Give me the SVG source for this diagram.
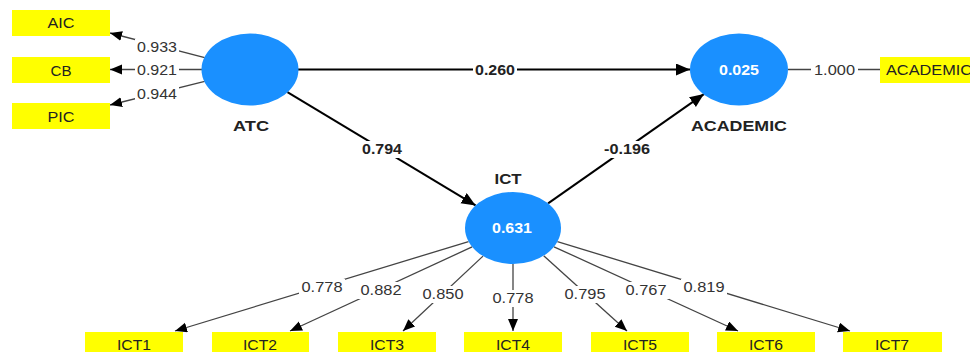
<svg xmlns="http://www.w3.org/2000/svg" width="970" height="352" viewBox="0 0 970 352">
<style>
.bg{fill:#ffffff}
.ind rect{fill:#ffff00}
.ind text{font-family:"Liberation Sans",Arial,sans-serif;font-size:14px;fill:#222;text-anchor:middle}
.lv ellipse{fill:#1a90ff}
.lv .val{font-family:"Liberation Sans",Arial,sans-serif;font-size:14px;font-weight:bold;fill:#ffffff;text-anchor:middle}
.lv .name{font-family:"Liberation Sans",Arial,sans-serif;font-size:14px;font-weight:bold;fill:#222;text-anchor:middle}
.ld{stroke:#444;stroke-width:1.3;fill:none}
.st{stroke:#000;stroke-width:2;fill:none}
.lbl{font-family:"Liberation Sans",Arial,sans-serif;font-size:14px;fill:#333;text-anchor:middle}
.blbl{font-family:"Liberation Sans",Arial,sans-serif;font-size:14px;font-weight:bold;fill:#222;text-anchor:middle}
.lb{fill:#ffffff}
</style>
<defs>
<marker id="ah" markerUnits="userSpaceOnUse" markerWidth="14" markerHeight="12" refX="12" refY="5" orient="auto">
<path d="M0,0 L12,5 L0,10 Z" fill="#000"/>
</marker>
<marker id="ahb" markerUnits="userSpaceOnUse" markerWidth="16" markerHeight="14" refX="14" refY="6" orient="auto">
<path d="M0,0 L14,6 L0,12 Z" fill="#000"/>
</marker>
</defs>
<rect class="bg" x="0" y="0" width="970" height="352"/>

<g id="connectors">
<!-- ATC outer loadings -->
<line class="ld" x1="204.7" y1="57.7" x2="110" y2="33" marker-end="url(#ah)"/>
<line class="ld" x1="202" y1="69.5" x2="110" y2="69.5" marker-end="url(#ah)"/>
<line class="ld" x1="204.7" y1="81.3" x2="110" y2="105" marker-end="url(#ah)"/>
<!-- structural -->
<line class="st" x1="298" y1="69.5" x2="690" y2="69.5" marker-end="url(#ahb)"/>
<line class="st" x1="287.4" y1="92.1" x2="475.6" y2="205.4" marker-end="url(#ahb)"/>
<line class="st" x1="548.1" y1="203.4" x2="703.9" y2="94.1" marker-end="url(#ahb)"/>
<!-- ACADEMIC indicator -->
<line class="ld" x1="788" y1="69.5" x2="880" y2="69.5"/>
<!-- ICT loadings -->
<line class="ld" x1="468.5" y1="241.6" x2="175" y2="331" marker-end="url(#ah)"/>
<line class="ld" x1="472.1" y1="246.9" x2="290" y2="331" marker-end="url(#ah)"/>
<line class="ld" x1="483" y1="256.1" x2="403" y2="331" marker-end="url(#ah)"/>
<line class="ld" x1="513" y1="264" x2="513" y2="331" marker-end="url(#ah)"/>
<line class="ld" x1="543.7" y1="255.7" x2="627" y2="331" marker-end="url(#ah)"/>
<line class="ld" x1="554" y1="246.8" x2="738" y2="331" marker-end="url(#ah)"/>
<line class="ld" x1="557.4" y1="241.6" x2="850" y2="331" marker-end="url(#ah)"/>

<!-- labels -->
<rect class="lb" x="135" y="39" width="44" height="16"/>
<text class="lbl" x="157" y="52" textLength="40" lengthAdjust="spacingAndGlyphs">0.933</text>
<rect class="lb" x="135" y="62" width="44" height="16"/>
<text class="lbl" x="157" y="75" textLength="40" lengthAdjust="spacingAndGlyphs">0.921</text>
<rect class="lb" x="135" y="86" width="44" height="16"/>
<text class="lbl" x="157" y="99" textLength="40" lengthAdjust="spacingAndGlyphs">0.944</text>

<rect class="lb" x="473" y="62" width="44" height="16"/>
<text class="blbl" x="495" y="75" textLength="40" lengthAdjust="spacingAndGlyphs">0.260</text>
<rect class="lb" x="360" y="141" width="44" height="17"/>
<text class="blbl" x="382" y="154" textLength="40" lengthAdjust="spacingAndGlyphs">0.794</text>
<rect class="lb" x="602" y="141" width="50" height="17"/>
<text class="blbl" x="627" y="154" textLength="46" lengthAdjust="spacingAndGlyphs">-0.196</text>

<rect class="lb" x="811" y="62" width="47" height="16"/>
<text class="lbl" x="834.5" y="75" textLength="41" lengthAdjust="spacingAndGlyphs">1.000</text>

<rect class="lb" x="299" y="279" width="46" height="17"/>
<text class="lbl" x="322" y="292" textLength="41" lengthAdjust="spacingAndGlyphs">0.778</text>
<rect class="lb" x="358" y="282" width="46" height="17"/>
<text class="lbl" x="381" y="295" textLength="41" lengthAdjust="spacingAndGlyphs">0.882</text>
<rect class="lb" x="420" y="286" width="46" height="17"/>
<text class="lbl" x="443" y="299" textLength="41" lengthAdjust="spacingAndGlyphs">0.850</text>
<rect class="lb" x="490" y="290" width="46" height="17"/>
<text class="lbl" x="513" y="303" textLength="41" lengthAdjust="spacingAndGlyphs">0.778</text>
<rect class="lb" x="562" y="286" width="46" height="17"/>
<text class="lbl" x="585" y="299" textLength="41" lengthAdjust="spacingAndGlyphs">0.795</text>
<rect class="lb" x="623" y="282" width="46" height="17"/>
<text class="lbl" x="646" y="295" textLength="41" lengthAdjust="spacingAndGlyphs">0.767</text>
<rect class="lb" x="681" y="279" width="46" height="17"/>
<text class="lbl" x="704" y="292" textLength="41" lengthAdjust="spacingAndGlyphs">0.819</text>
</g>

<g id="AIC" class="ind"><rect x="12" y="10" width="98" height="26"/><text x="61" y="28" textLength="27" lengthAdjust="spacingAndGlyphs">AIC</text></g>
<g id="CB" class="ind"><rect x="12" y="57" width="98" height="26"/><text x="61" y="76" textLength="21" lengthAdjust="spacingAndGlyphs">CB</text></g>
<g id="PIC" class="ind"><rect x="12" y="103" width="98" height="26"/><text x="61" y="122" textLength="27" lengthAdjust="spacingAndGlyphs">PIC</text></g>

<g id="ATC" class="lv"><ellipse cx="250" cy="69.5" rx="48.5" ry="36"/><text class="name" x="251" y="131" textLength="36" lengthAdjust="spacingAndGlyphs">ATC</text></g>
<g id="ACADEMIC" class="lv"><ellipse cx="739" cy="69.5" rx="49" ry="36"/><text class="val" x="739" y="75" textLength="40" lengthAdjust="spacingAndGlyphs">0.025</text><text class="name" x="739" y="131" textLength="96" lengthAdjust="spacingAndGlyphs">ACADEMIC</text></g>
<g id="ICT" class="lv"><ellipse cx="513" cy="228" rx="48" ry="36"/><text class="val" x="512" y="233" textLength="40" lengthAdjust="spacingAndGlyphs">0.631</text><text class="name" x="508" y="184" textLength="27" lengthAdjust="spacingAndGlyphs">ICT</text></g>

<g id="ACADEMIC_ind" class="ind"><rect x="880" y="57" width="100" height="26"/><text x="886" y="75" style="text-anchor:start" textLength="86" lengthAdjust="spacingAndGlyphs">ACADEMIC</text></g>

<g id="ICT1" class="ind"><rect x="85" y="332" width="98" height="26"/><text x="134" y="350" textLength="34" lengthAdjust="spacingAndGlyphs">ICT1</text></g>
<g id="ICT2" class="ind"><rect x="212" y="332" width="97" height="26"/><text x="260" y="350" textLength="34" lengthAdjust="spacingAndGlyphs">ICT2</text></g>
<g id="ICT3" class="ind"><rect x="338" y="332" width="98" height="26"/><text x="387" y="350" textLength="34" lengthAdjust="spacingAndGlyphs">ICT3</text></g>
<g id="ICT4" class="ind"><rect x="464" y="332" width="98" height="26"/><text x="513" y="350" textLength="34" lengthAdjust="spacingAndGlyphs">ICT4</text></g>
<g id="ICT5" class="ind"><rect x="591" y="332" width="98" height="26"/><text x="640" y="350" textLength="34" lengthAdjust="spacingAndGlyphs">ICT5</text></g>
<g id="ICT6" class="ind"><rect x="717" y="332" width="98" height="26"/><text x="766" y="350" textLength="34" lengthAdjust="spacingAndGlyphs">ICT6</text></g>
<g id="ICT7" class="ind"><rect x="843" y="332" width="99" height="26"/><text x="892" y="350" textLength="34" lengthAdjust="spacingAndGlyphs">ICT7</text></g>
</svg>
